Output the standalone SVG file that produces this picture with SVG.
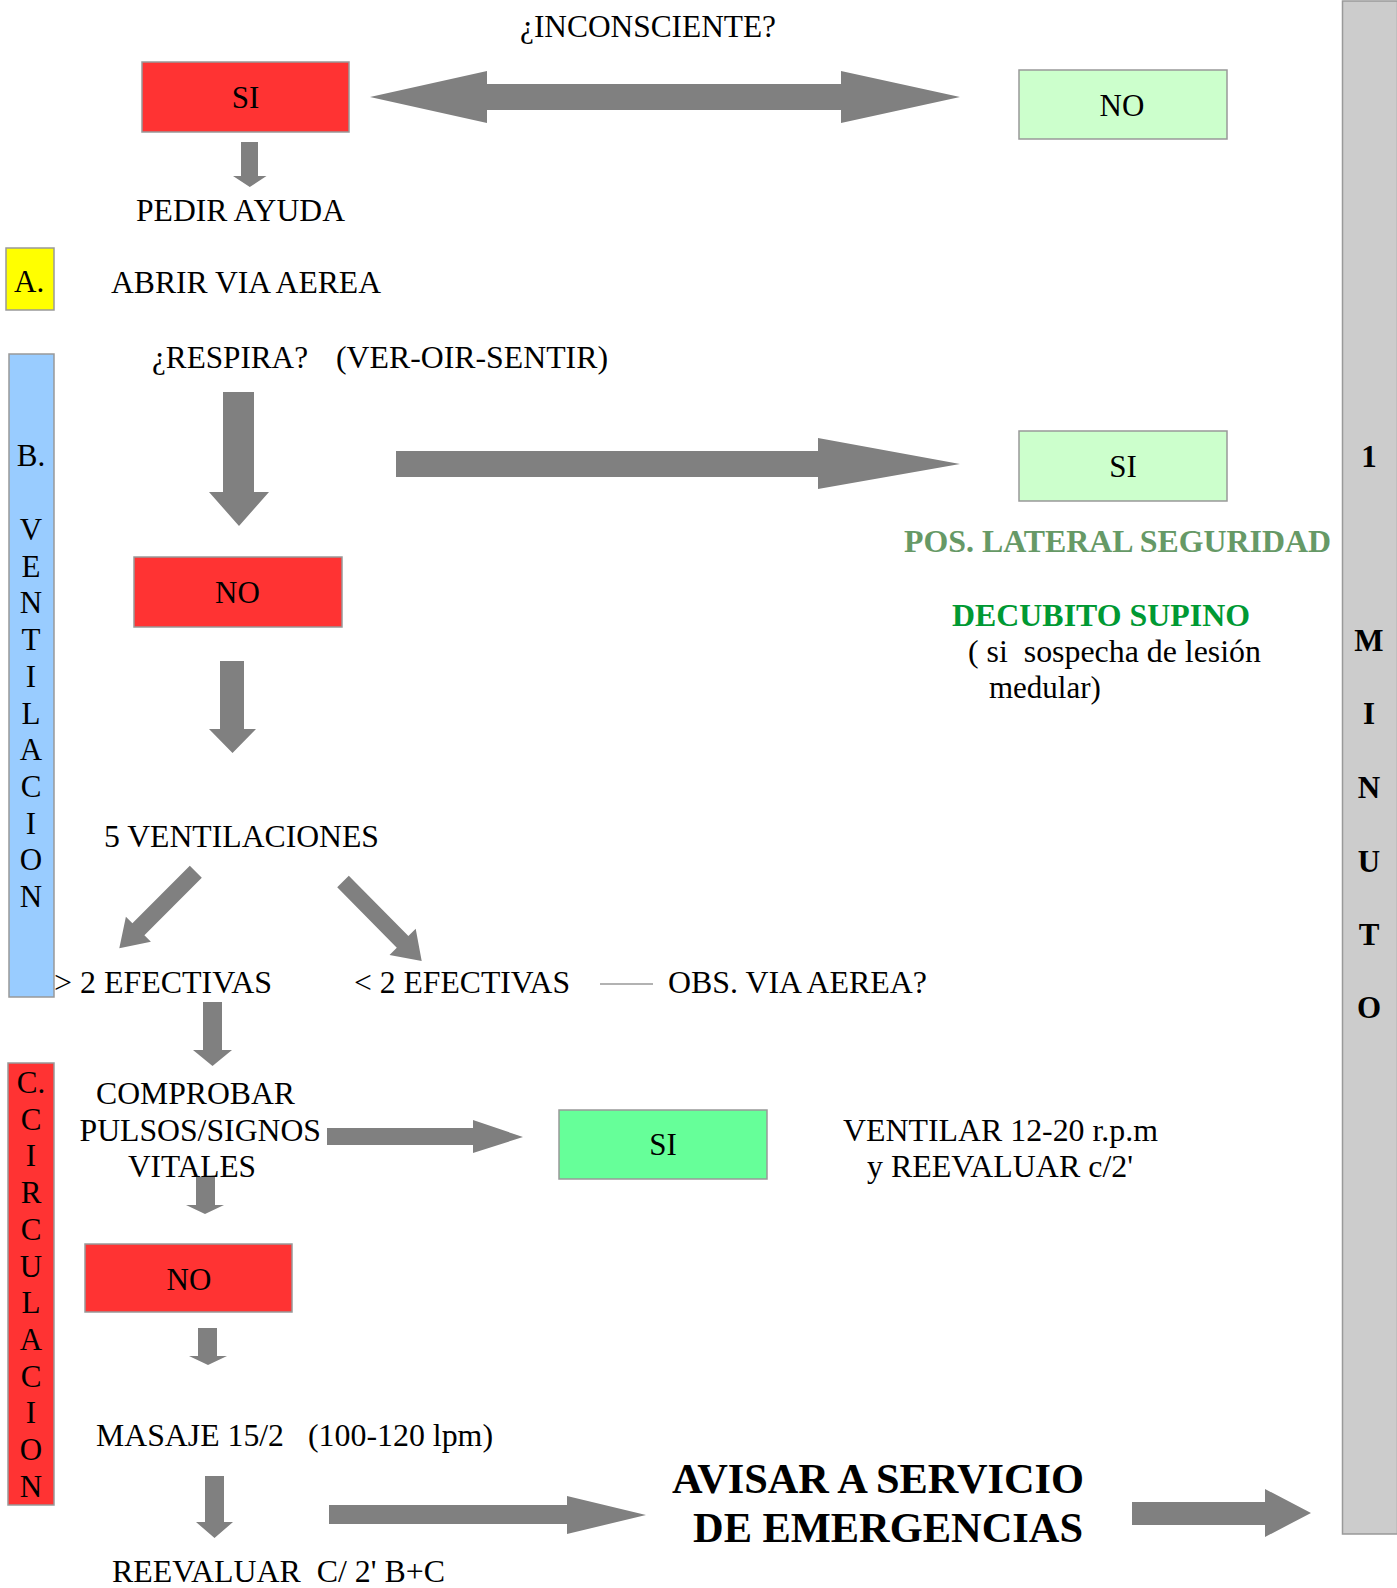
<svg xmlns="http://www.w3.org/2000/svg" width="1397" height="1588" viewBox="0 0 1397 1588">
<style>
text{font-family:"Liberation Serif","Times New Roman",serif;font-size:31px;fill:#000}
.c{text-anchor:middle}
.b{font-weight:bold}
.box{stroke:#999;stroke-width:1.5}
.red{fill:#ff3333}
.lg{fill:#ccffcc}
.gr{fill:#66ff99}
.arr{fill:#808080;stroke:none}
</style>
<rect width="1397" height="1588" fill="#fff"/>

<g id="bar-minuto">
<rect class="box" x="1342.5" y="1" width="55" height="1533" fill="#cccccc"/>
<text class="c b" x="1369" y="467">1</text>
<text class="c b" x="1369" y="651">M</text>
<text class="c b" x="1369" y="724">I</text>
<text class="c b" x="1369" y="798">N</text>
<text class="c b" x="1369" y="872">U</text>
<text class="c b" x="1369" y="945">T</text>
<text class="c b" x="1369" y="1018">O</text>
</g>

<g id="title"><text x="520" y="37" textLength="256" lengthAdjust="spacingAndGlyphs">¿INCONSCIENTE?</text></g>

<g id="si-top"><rect class="box red" x="142" y="62" width="207" height="70"/><text class="c" x="245.5" y="108">SI</text></g>
<g id="no-top"><rect class="box lg" x="1019" y="70" width="208" height="69"/><text class="c" x="1122" y="116">NO</text></g>
<g id="pedir"><text x="136" y="221" textLength="209" lengthAdjust="spacingAndGlyphs">PEDIR AYUDA</text></g>
<g id="a-label"><rect class="box" x="6" y="248" width="48" height="62" fill="#ffff00"/><text x="14" y="292">A.</text></g>
<g id="abrir"><text x="111" y="293" textLength="270" lengthAdjust="spacingAndGlyphs">ABRIR VIA AEREA</text></g>
<g id="respira"><text x="152" y="368" textLength="156" lengthAdjust="spacingAndGlyphs">¿RESPIRA?</text><text x="336" y="368" textLength="272" lengthAdjust="spacingAndGlyphs">(VER-OIR-SENTIR)</text></g>

<g id="b-label">
<rect class="box" x="9" y="354" width="45" height="643" fill="#99ccff"/>
<text class="c" x="31" y="466">B.</text>
<text class="c" x="31" y="540">V</text>
<text class="c" x="31" y="577">E</text>
<text class="c" x="31" y="613">N</text>
<text class="c" x="31" y="650">T</text>
<text class="c" x="31" y="687">I</text>
<text class="c" x="31" y="724">L</text>
<text class="c" x="31" y="760">A</text>
<text class="c" x="31" y="797">C</text>
<text class="c" x="31" y="834">I</text>
<text class="c" x="31" y="870">O</text>
<text class="c" x="31" y="907">N</text>
</g>

<g id="si-resp"><rect class="box lg" x="1019" y="431" width="208" height="70"/><text class="c" x="1123" y="477">SI</text></g>
<g id="pos-lateral"><text class="b" x="904" y="552" style="fill:#669966;font-size:32px" textLength="427" lengthAdjust="spacingAndGlyphs">POS. LATERAL SEGURIDAD</text></g>
<g id="decubito">
<text class="b" x="952" y="626" style="fill:#009933;font-size:32px" textLength="298" lengthAdjust="spacingAndGlyphs">DECUBITO SUPINO</text>
<text x="968" y="662" xml:space="preserve" textLength="293" lengthAdjust="spacingAndGlyphs">( si  sospecha de lesión</text>
<text x="989" y="698">medular)</text>
</g>

<g id="no-resp"><rect class="box red" x="134" y="557" width="208" height="70"/><text class="c" x="237.5" y="603">NO</text></g>
<g id="ventilaciones"><text x="104" y="847" textLength="275" lengthAdjust="spacingAndGlyphs">5 VENTILACIONES</text></g>
<g id="mas2"><text x="54" y="993" textLength="218" lengthAdjust="spacingAndGlyphs">&gt; 2 EFECTIVAS</text></g>
<g id="menos2"><text x="354" y="993" textLength="216" lengthAdjust="spacingAndGlyphs">&lt; 2 EFECTIVAS</text></g>
<g id="obs"><text x="668" y="993" textLength="259" lengthAdjust="spacingAndGlyphs">OBS. VIA AEREA?</text></g>

<g id="c-label">
<rect class="box red" x="8" y="1063" width="46" height="442"/>
<text class="c" x="31" y="1093">C.</text>
<text class="c" x="31" y="1129.7">C</text>
<text class="c" x="31" y="1166.4">I</text>
<text class="c" x="31" y="1203.1">R</text>
<text class="c" x="31" y="1239.8">C</text>
<text class="c" x="31" y="1276.5">U</text>
<text class="c" x="31" y="1313.2">L</text>
<text class="c" x="31" y="1349.9">A</text>
<text class="c" x="31" y="1386.6">C</text>
<text class="c" x="31" y="1423.3">I</text>
<text class="c" x="31" y="1460">O</text>
<text class="c" x="31" y="1496.7">N</text>
</g>

<g id="comprobar">
<text x="96" y="1104" textLength="199" lengthAdjust="spacingAndGlyphs">COMPROBAR</text>
<text x="79.5" y="1141" textLength="241.5" lengthAdjust="spacingAndGlyphs">PULSOS/SIGNOS</text>
<text x="128" y="1177" textLength="128" lengthAdjust="spacingAndGlyphs">VITALES</text>
</g>
<g id="si-pulso"><rect class="box gr" x="559" y="1110" width="208" height="69"/><text class="c" x="663" y="1155">SI</text></g>
<g id="ventilar">
<text x="843" y="1141" textLength="315" lengthAdjust="spacingAndGlyphs">VENTILAR 12-20 r.p.m</text>
<text x="867" y="1177" textLength="266" lengthAdjust="spacingAndGlyphs">y REEVALUAR c/2'</text>
</g>
<g id="no-pulso"><rect class="box red" x="85" y="1244" width="207" height="68"/><text class="c" x="189" y="1290">NO</text></g>
<g id="masaje"><text x="96" y="1446" textLength="188" lengthAdjust="spacingAndGlyphs">MASAJE 15/2</text><text x="308" y="1446" textLength="185" lengthAdjust="spacingAndGlyphs">(100-120 lpm)</text></g>
<g id="reevaluar"><text x="112" y="1582" xml:space="preserve" textLength="333" lengthAdjust="spacingAndGlyphs">REEVALUAR  C/ 2' B+C</text></g>
<g id="avisar">
<text class="b" x="672" y="1493" style="font-size:43px" textLength="412" lengthAdjust="spacingAndGlyphs">AVISAR A SERVICIO</text>
<text class="b" x="693" y="1542" style="font-size:43px" textLength="390" lengthAdjust="spacingAndGlyphs">DE EMERGENCIAS</text>
</g>

<g id="connectors">
<polygon class="arr" points="370,97 487,71 487,84 841,84 841,71 960,97 841,123 841,110 487,110 487,123"/>
<polygon class="arr" points="241,142 258,142 258,176 266.5,176 249.8,187 233,176 241,176"/>
<polygon class="arr" points="223,392 254,392 254,492 269,492 239,526 209,492 223,492"/>
<polygon class="arr" points="396,451 818,451 818,438 960,464 818,489 818,477 396,477"/>
<polygon class="arr" points="220,661 244,661 244,729 256,729 232.5,753 209,729 220,729"/>
<polygon class="arr" points="189.8,865.7 201.8,877.7 144.4,935.2 150.9,941.7 119.3,948.3 125.9,916.7 132.4,923.2"/>
<polygon class="arr" points="337.2,887.3 348.8,875.7 408.4,936.1 415.7,928.8 421.7,961 389.5,955 396.8,947.7"/>
<line x1="600" y1="984" x2="653" y2="984" stroke="#999" stroke-width="1.5"/>
<polygon class="arr" points="203,1002 222,1002 222,1050 232,1050 212.5,1066 193,1050 203,1050"/>
<polygon class="arr" points="327,1128 473,1128 473,1120 523,1137 473,1153 473,1145 327,1145"/>
<polygon class="arr" points="196,1177 215,1177 215,1205 224,1205 205,1214 186,1205 196,1205"/>
<polygon class="arr" points="198,1328 217,1328 217,1356 227,1356 208,1365 189,1356 198,1356"/>
<polygon class="arr" points="205,1476 224,1476 224,1522 233,1522 214.5,1538 196,1522 205,1522"/>
<polygon class="arr" points="329,1505 567,1505 567,1496 646,1515 567,1534 567,1524 329,1524"/>
<polygon class="arr" points="1132,1502 1265,1502 1265,1489 1311,1513 1265,1537 1265,1525 1132,1525"/>
</g>
</svg>
